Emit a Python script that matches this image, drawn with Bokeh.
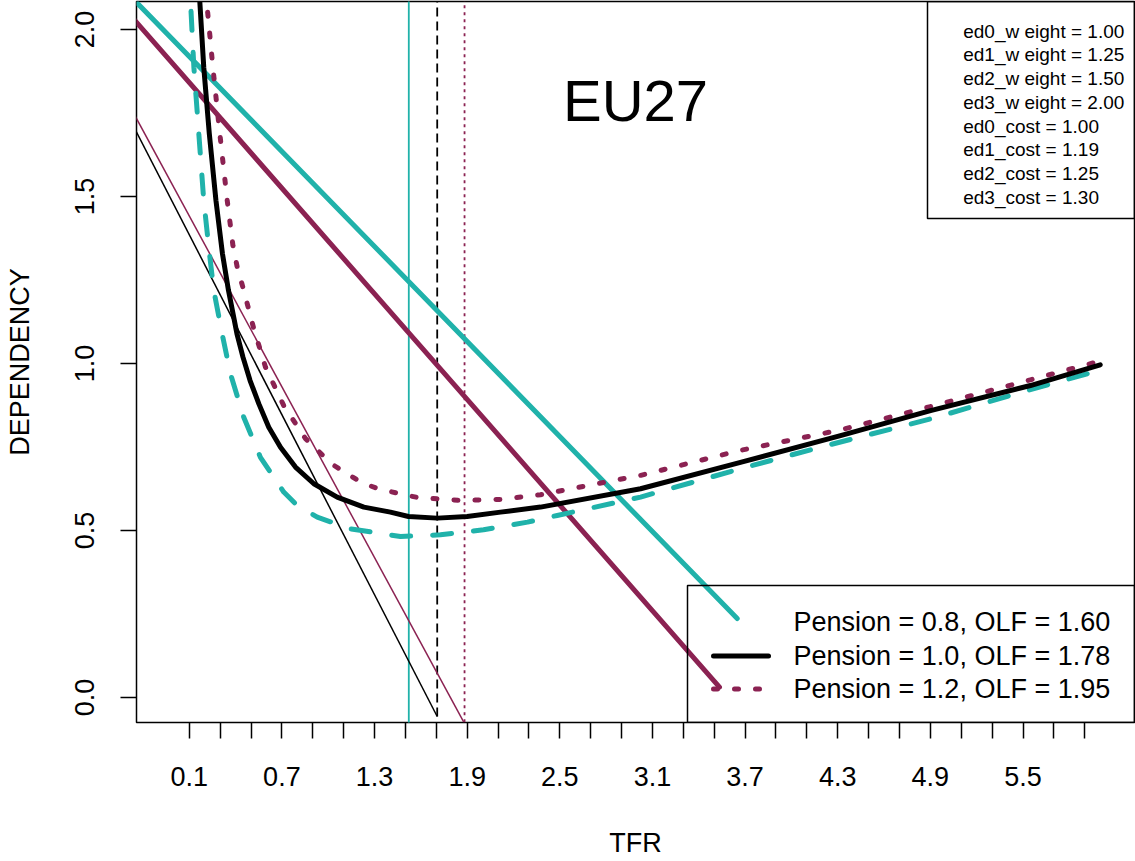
from bokeh.plotting import figure
from bokeh.models import FixedTicker, BoxAnnotation
from bokeh.core.properties import value
from bokeh.embed import file_html
from bokeh.resources import INLINE

TEAL = "#20B2AA"
PURPLE = "#8B2252"
BLACK = "#000000"
FONT = "Liberation Sans"

# ---- data ----
# Pension = 1.0 (black, solid)
tfr_p10 = [0.157, 0.168, 0.194, 0.230, 0.273, 0.315, 0.354, 0.409, 0.448, 0.494, 0.551, 0.615, 0.691,
           0.788, 0.907, 1.058, 1.231, 1.403, 1.520, 1.706, 1.900, 2.116, 2.375, 3.023, 3.670, 4.318,
           4.901, 5.548, 6.000]
dep_p10 = [2.177, 2.087, 1.887, 1.688, 1.488, 1.329, 1.219, 1.089, 1.019, 0.949, 0.879, 0.809, 0.749,
           0.690, 0.640, 0.600, 0.570, 0.555, 0.542, 0.537, 0.542, 0.555, 0.570, 0.625, 0.704, 0.784,
           0.859, 0.934, 0.996]

# Pension = 0.8 (teal, dashed)
tfr_p08 = [0.098, 0.108, 0.130, 0.162, 0.194, 0.231, 0.259, 0.313, 0.367, 0.453, 0.561, 0.712, 0.799,
           0.929, 1.144, 1.468, 1.727, 2.006, 2.291, 2.483, 3.023, 3.670, 4.208, 4.901, 5.548, 6.000]
dep_p08 = [2.177, 2.087, 1.887, 1.688, 1.488, 1.329, 1.219, 1.089, 0.969, 0.839, 0.719, 0.615, 0.575,
           0.540, 0.505, 0.482, 0.487, 0.502, 0.525, 0.545, 0.600, 0.685, 0.752, 0.834, 0.922, 0.980]

# Pension = 1.2 (purple, dotted)
tfr_p12 = [0.194, 0.212, 0.253, 0.298, 0.346, 0.383, 0.411, 0.453, 0.518, 0.594, 0.712, 0.853, 1.026,
           1.220, 1.339, 1.576, 1.857, 2.116, 2.375, 3.023, 3.670, 4.318, 4.901, 5.548, 5.990]
dep_p12 = [2.177, 2.087, 1.887, 1.688, 1.488, 1.353, 1.288, 1.219, 1.104, 0.989, 0.874, 0.775, 0.698,
           0.642, 0.623, 0.599, 0.590, 0.593, 0.607, 0.665, 0.740, 0.801, 0.871, 0.951, 1.006]

# straight lines (end points)
olf08_x = [-0.30, 3.649]
olf08_y = [2.109, 0.2365]
olf12_x = [-0.30, 3.534]
olf12_y = [2.052, 0.031]
thin10_x = [-0.30, 1.706]
thin10_y = [1.745, -0.057]
thin12_x = [-0.30, 1.878]
thin12_y = [1.783, -0.074]

# vertical reference lines
vline_x = [1.522, 1.706, 1.883]
vline_bottom = [-0.10, -0.057, -0.074]

legend_labels = ["Pension = 0.8, OLF = 1.60", "Pension = 1.0, OLF = 1.78", "Pension = 1.2, OLF = 1.95"]
note_labels = ["ed0_w eight = 1.00", "ed1_w eight = 1.25", "ed2_w eight = 1.50", "ed3_w eight = 2.00",
               "ed0_cost = 1.00", "ed1_cost = 1.19", "ed2_cost = 1.25", "ed3_cost = 1.30"]

x_tick_values = [0.1, 0.3, 0.5, 0.7, 0.9, 1.1, 1.3, 1.5, 1.7, 1.9, 2.1, 2.3, 2.5, 2.7, 2.9, 3.1,
                 3.3, 3.5, 3.7, 3.9, 4.1, 4.3, 4.5, 4.7, 4.9, 5.1, 5.3, 5.5, 5.7, 5.9]
x_tick_labels = ["0.1", "0.7", "1.3", "1.9", "2.5", "3.1", "3.7", "4.3", "4.9", "5.5"]
y_tick_values = [0.0, 0.5, 1.0, 1.5, 2.0]
y_tick_labels = ["0.0", "0.5", "1.0", "1.5", "2.0"]

# ---- layout ----
W, H = 1135, 861
FL, FR, FT, FB = 136, 1134, 1, 722
X0, X1 = -0.2416, 6.2221
Y0, Y1 = -0.0749, 2.0838


def px_x(px):
    return X0 + (px - FL) / (FR - FL) * (X1 - X0)


def px_y(py):
    return Y1 - (py - FT) / (FB - FT) * (Y1 - Y0)


p = figure(width=W, height=H, x_range=(X0, X1), y_range=(Y0, Y1),
           output_backend="svg", toolbar_location=None,
           min_border_left=FL, min_border_right=W - FR, min_border_top=FT, min_border_bottom=H - FB)
p.background_fill_color = "white"
p.border_fill_color = "white"
p.outline_line_color = "black"
p.outline_line_width = 1.5
p.xgrid.visible = False
p.ygrid.visible = False

# axes
p.xaxis.ticker = FixedTicker(ticks=x_tick_values)
p.xaxis.major_label_overrides = {v: (f"{v:.1f}" if f"{v:.1f}" in x_tick_labels else "") for v in x_tick_values}
p.yaxis.ticker = FixedTicker(ticks=y_tick_values)
p.yaxis.major_label_overrides = {v: l for v, l in zip(y_tick_values, y_tick_labels)}
p.yaxis.major_label_orientation = "vertical"
for ax in (p.xaxis[0], p.yaxis[0]):
    ax.axis_line_color = None
    ax.major_tick_out = 16
    ax.major_tick_in = 0
    ax.minor_tick_out = 0
    ax.minor_tick_in = 0
    ax.major_tick_line_color = "black"
    ax.major_tick_line_width = 1.5
    ax.major_label_text_font = FONT
    ax.major_label_text_font_size = "27px"
    ax.major_label_text_color = "black"
    ax.axis_label_text_font = FONT
    ax.axis_label_text_font_size = "27px"
    ax.axis_label_text_font_style = "normal"
    ax.axis_label_text_color = "black"
p.xaxis.axis_label = "TFR"
p.yaxis.axis_label = "DEPENDENCY"
p.xaxis.major_label_standoff = 28
p.xaxis.axis_label_standoff = 39
p.yaxis.major_label_standoff = 26
p.yaxis.axis_label_standoff = 38

# legend boxes
p.add_layout(BoxAnnotation(left=px_x(927), bottom=px_y(218), fill_color=None, fill_alpha=0,
                           line_color="black", line_alpha=1, line_width=1.5))
p.add_layout(BoxAnnotation(left=px_x(687), top=px_y(585), fill_color=None, fill_alpha=0,
                           line_color="black", line_alpha=1, line_width=1.5))

# vertical reference lines
p.segment(x0=[vline_x[0]], y0=[vline_bottom[0]], x1=[vline_x[0]], y1=[2.3],
          line_color=TEAL, line_width=1.8)
p.segment(x0=[vline_x[1]], y0=[vline_bottom[1]], x1=[vline_x[1]], y1=[2.3],
          line_color=BLACK, line_width=1.8, line_dash="9 5")
p.segment(x0=[vline_x[2]], y0=[vline_bottom[2]], x1=[vline_x[2]], y1=[2.3],
          line_color=PURPLE, line_width=1.8, line_dash="3 4")

# thin straight lines
p.line(thin10_x, thin10_y, line_color=BLACK, line_width=1.5)
p.line(thin12_x, thin12_y, line_color=PURPLE, line_width=1.5)

# thick straight lines
p.line(olf08_x, olf08_y, line_color=TEAL, line_width=5, line_cap="round")
p.line(olf12_x, olf12_y, line_color=PURPLE, line_width=5, line_cap="round")

# dependency curves
p.line(tfr_p08, dep_p08, line_color=TEAL, line_width=5, line_dash="19 22",
       line_cap="round", line_join="round")
p.line(tfr_p12, dep_p12, line_color=PURPLE, line_width=5, line_dash="4 17",
       line_cap="round", line_join="round")
p.line(tfr_p10, dep_p10, line_color=BLACK, line_width=5, line_cap="round", line_join="round")

# title text
p.text(x=[px_x(635)], y=[px_y(100)], text=["EU27"], text_font=value(FONT),
       text_font_size="58px", text_align="center", text_baseline="middle", text_color="black")

# bottom-right legend
row_y = [621.7, 655.5, 688.5]
p.text(x=[px_x(793)] * 3, y=[px_y(v) for v in row_y], text=legend_labels, text_font=value(FONT),
       text_font_size="27px", text_align="left", text_baseline="middle", text_color="black")
p.line([px_x(713), px_x(768)], [px_y(row_y[1])] * 2, line_color=BLACK, line_width=5, line_cap="round")
p.line([px_x(713), px_x(768)], [px_y(row_y[2])] * 2, line_color=PURPLE, line_width=5,
       line_dash="4 17", line_cap="round")

# top-right notes
note_y = [30.7 + i * 23.7 for i in range(len(note_labels))]
p.text(x=[px_x(962.7)] * len(note_labels), y=[px_y(v) for v in note_y], text=note_labels,
       text_font=value(FONT), text_font_size="19px", text_align="left", text_baseline="middle",
       text_color="black")

open("out.html", "w").write(file_html(p, INLINE))
